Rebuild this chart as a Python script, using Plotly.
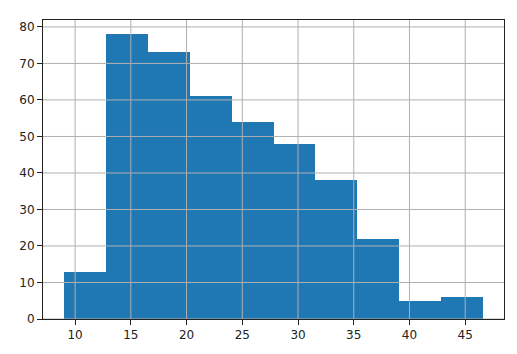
import numpy as np
import plotly.graph_objects as go

# Histogram data (mpg-like distribution)
data_min = 9.0
data_max = 46.6
counts = [13, 78, 73, 61, 54, 48, 38, 22, 5, 6]
x_ticks = [10, 15, 20, 25, 30, 35, 40, 45]
y_ticks = [0, 10, 20, 30, 40, 50, 60, 70, 80]

edges = np.linspace(data_min, data_max, len(counts) + 1)
centers = (edges[:-1] + edges[1:]) / 2
widths = np.diff(edges)

span = data_max - data_min
x_range = [data_min - 0.05 * span, data_max + 0.05 * span]
y_range = [0, max(counts) * 1.05]

fig = go.Figure()
fig.add_trace(go.Bar(
    x=centers, y=counts, width=widths,
    marker=dict(color="#1f77b4", line=dict(width=0)),
    hoverinfo="x+y",
))

shapes = []
for t in x_ticks:
    shapes.append(dict(type="line", xref="x", yref="paper", x0=t, x1=t, y0=0, y1=1,
                       line=dict(color="#b0b0b0", width=1), layer="above"))
for t in y_ticks:
    shapes.append(dict(type="line", xref="paper", yref="y", x0=0, x1=1, y0=t, y1=t,
                       line=dict(color="#b0b0b0", width=1), layer="above"))

axis_common = dict(
    showgrid=False, zeroline=False, showline=True, mirror=True,
    linecolor="#222222", linewidth=1,
    ticks="outside", ticklen=5, tickwidth=1, tickcolor="#222222",
    tickfont=dict(family="DejaVu Sans", size=12, color="#222222"),
)

fig.update_layout(
    width=517, height=354,
    margin=dict(l=43, r=13, t=20, b=35),
    paper_bgcolor="white", plot_bgcolor="white",
    showlegend=False,
    bargap=0,
    shapes=shapes,
    xaxis=dict(range=x_range, tickvals=x_ticks, ticktext=[str(t) for t in x_ticks], **axis_common),
    yaxis=dict(range=y_range, tickvals=y_ticks, ticktext=[str(t) for t in y_ticks], **axis_common),
)

fig.write_html("out.html")
